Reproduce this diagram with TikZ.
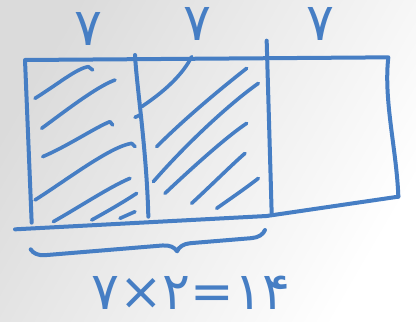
\documentclass[tikz,border=0pt]{standalone}
\usepackage{fontspec}
\newfontfamily\persfont{DejaVu Sans}
\usetikzlibrary{decorations.pathreplacing}
\definecolor{handblue}{RGB}{70,126,196}
\tikzset{
  ink/.style={draw=handblue, line width=4pt, line cap=round, line join=round},
  hatch/.style={ink, line width=3.6pt},
  digit/.style={text=handblue, font=\persfont\fontsize{52}{52}\selectfont, inner sep=0pt}
}
\begin{document}
\begin{tikzpicture}[x=0.3333pt, y=-0.3333pt]
\useasboundingbox (0,0) rectangle (1248,966);
\shade[left color=black!14, right color=white, shading angle=60] (0,0) rectangle (1248,966);
% outline of the strip
\coordinate (tl) at (75,180);
\coordinate (tr) at (1165,172);
\coordinate (br) at (1195,590);
\coordinate (bl) at (45,688);
\coordinate (lb) at (95,668);
\draw[ink] (lb) -- (tl) -- (tr) .. controls (1150,300) and (1190,450) .. (br);
\draw[ink] (bl) -- (800,648) -- (br);
% dividers
\coordinate (d1t) at (405,165);
\coordinate (d1b) at (445,650);
\coordinate (d2t) at (800,122);
\coordinate (d2b) at (815,640);
\draw[ink] (d1t) .. controls (410,260) and (440,450) .. (d1b);
\draw[ink] (d2t) -- (d2b);
% hatching, first part
\draw[hatch] (105,295) .. controls (170,255) and (230,205) .. (265,200) -- (278,210);
\draw[hatch] (125,385) .. controls (200,330) and (290,260) .. (345,240);
\draw[hatch] (128,470) .. controls (200,440) and (290,380) .. (330,365) -- (338,375);
\draw[hatch] (105,600) .. controls (200,540) and (330,440) .. (395,430) -- (405,440);
\draw[hatch] (160,665) .. controls (240,620) and (330,560) .. (390,535);
\draw[hatch] (275,660) .. controls (330,630) and (380,600) .. (410,580);
\draw[hatch] (360,655) -- (405,635);
% hatching, second part
\draw[hatch] (425,320) .. controls (500,270) and (550,220) .. (575,170);
\draw[hatch] (405,352) -- (418,346);
\draw[hatch] (470,440) .. controls (560,350) and (670,260) .. (740,205);
\draw[hatch] (460,545) .. controls (560,430) and (690,310) .. (775,250);
\draw[hatch] (495,580) .. controls (580,500) and (680,410) .. (740,370);
\draw[hatch] (575,610) .. controls (640,550) and (700,490) .. (735,460);
\draw[hatch] (650,625) .. controls (700,590) and (750,555) .. (775,535);
% sevens above
\node[digit] (s1) at (265,88) {۷};
\node[digit] (s2) at (592,72) {۷};
\node[digit] (s3) at (962,72) {۷};
% brace
\coordinate (ba) at (92,748);
\coordinate (bb) at (795,690);
\draw[ink, decorate, decoration={brace, mirror, amplitude=14pt, aspect=0.62}] (ba) -- (bb);
% result
\node[digit] (res) at (572,878) {۷×۲=۱۴};
\end{tikzpicture}
\end{document}
